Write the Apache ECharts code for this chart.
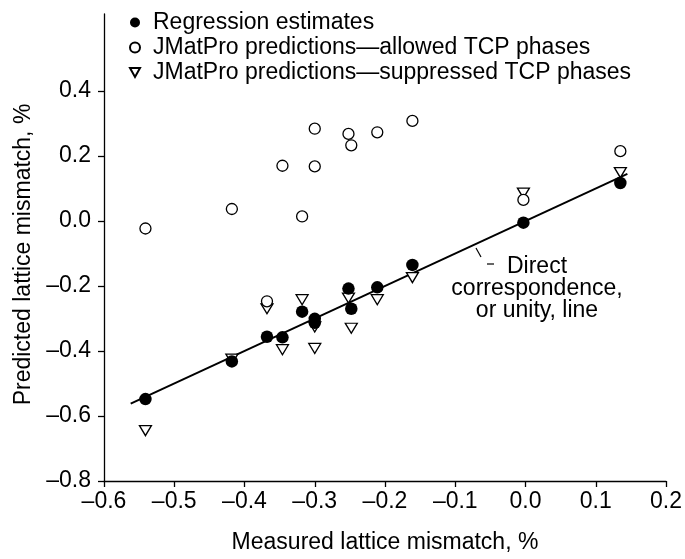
<!DOCTYPE html>
<html>
<head>
<meta charset="utf-8">
<script src="https://cdn.jsdelivr.net/npm/echarts@6/dist/echarts.min.js"></script>
<style>
  html, body { margin: 0; padding: 0; background: #fff; }
  #chart { width: 685px; height: 559px; }
</style>
</head>
<body>
<div id="chart"></div>
<script>
// ---- data ----
const measured = [-0.541, -0.418, -0.368, -0.346, -0.318, -0.300, -0.300, -0.252, -0.248, -0.211, -0.161, -0.003, 0.135];
const regression = [-0.548, -0.432, -0.356, -0.358, -0.279, -0.301, -0.313, -0.208, -0.270, -0.204, -0.135, -0.005, 0.117];
const allowedTCP = [-0.023, 0.037, -0.247, 0.170, 0.014, 0.284, 0.168, 0.268, 0.233, 0.273, 0.308, 0.065, 0.215];
const suppressedTCP = [-0.645, -0.425, -0.270, -0.396, -0.242, -0.326, -0.392, -0.237, -0.330, -0.242, -0.174, 0.086, 0.149];
const unityLineX = [-0.562, 0.145];
const xTicks = [-0.6, -0.5, -0.4, -0.3, -0.2, -0.1, 0.0, 0.1, 0.2];
const yTicks = [-0.8, -0.6, -0.4, -0.2, 0.0, 0.2, 0.4];
const seriesNames = [
  'Regression estimates',
  'JMatPro predictions\u2014allowed TCP phases',
  'JMatPro predictions\u2014suppressed TCP phases'
];

const FONT = "'Liberation Sans', Arial, Helvetica, sans-serif";
const FS = 23;
const fmt = v => (v < -1e-9 ? '\u2013' : '') + Math.abs(v).toFixed(1);
const pairs = ys => measured.map((x, i) => [x, ys[i]]);
const triPath = 'path://M0,0 L10,0 L5,9 Z';

const chart = echarts.init(document.getElementById('chart'), null, { renderer: 'canvas' });
chart.setOption({
  backgroundColor: '#ffffff',
  animation: false,
  textStyle: { fontFamily: FONT, color: '#000' },
  grid: { left: 104, right: 13, top: 14, bottom: 73, containLabel: false },
  legend: {
    orient: 'vertical',
    left: 129,
    top: 11,
    padding: 0,
    itemWidth: 10,
    itemHeight: 10,
    itemGap: 2,
    data: seriesNames,
    textStyle: { fontFamily: FONT, fontSize: FS, color: '#000', lineHeight: 23, padding: [0, 0, 0, 8] }
  },
  xAxis: {
    type: 'value',
    min: -0.6, max: 0.2, interval: 0.1,
    name: 'Measured lattice mismatch, %',
    nameLocation: 'middle',
    nameGap: 50,
    nameTextStyle: { fontFamily: FONT, fontSize: FS, color: '#000' },
    axisLine: { show: true, onZero: false, lineStyle: { color: '#000', width: 1.3 } },
    axisTick: { show: true, length: 6, inside: false, customValues: xTicks, lineStyle: { color: '#000', width: 1.3 } },
    axisLabel: { customValues: xTicks, formatter: fmt, fontFamily: FONT, fontSize: FS, color: '#000', margin: 9 },
    splitLine: { show: false }
  },
  yAxis: {
    type: 'value',
    min: -0.8, max: 0.637, interval: 0.2,
    name: 'Predicted lattice mismatch, %',
    nameLocation: 'middle',
    nameRotate: 90,
    nameGap: 64,
    nameTextStyle: { fontFamily: FONT, fontSize: FS, color: '#000', padding: [0, 14, 0, 0] },
    axisLine: { show: true, onZero: false, lineStyle: { color: '#000', width: 1.3 } },
    axisTick: { show: true, length: 6, inside: false, customValues: yTicks, lineStyle: { color: '#000', width: 1.3 } },
    axisLabel: { customValues: yTicks, formatter: fmt, fontFamily: FONT, fontSize: FS, color: '#000', margin: 13 },
    splitLine: { show: false }
  },
  series: [
    {
      name: 'unity',
      type: 'line',
      data: unityLineX.map(v => [v, v]),
      showSymbol: false,
      symbol: 'none',
      lineStyle: { color: '#000', width: 2 },
      silent: true,
      z: 1
    },
    {
      name: seriesNames[2],
      type: 'scatter',
      data: pairs(suppressedTCP),
      symbol: triPath,
      symbolSize: [12, 10],
      itemStyle: { color: '#fff', borderColor: '#000', borderWidth: 1.3, opacity: 1 },
      z: 2
    },
    {
      name: seriesNames[1],
      type: 'scatter',
      data: pairs(allowedTCP),
      symbol: 'circle',
      symbolSize: 11,
      itemStyle: { color: '#fff', borderColor: '#000', borderWidth: 1.3, opacity: 1 },
      z: 3
    },
    {
      name: seriesNames[0],
      type: 'scatter',
      data: pairs(regression),
      symbol: 'circle',
      symbolSize: 12.5,
      itemStyle: { color: '#000', borderColor: '#000', borderWidth: 0, opacity: 1 },
      z: 4
    }
  ],
  graphic: [
    {
      type: 'polyline',
      shape: { points: [[476, 248], [481, 257]] },
      style: { stroke: '#000', lineWidth: 1.2, fill: null },
      silent: true
    },
    {
      type: 'line',
      shape: { x1: 487, y1: 264, x2: 494, y2: 264 },
      style: { stroke: '#000', lineWidth: 1.2 },
      silent: true
    },
    {
      type: 'text',
      x: 537,
      y: 256,
      style: {
        text: 'Direct\ncorrespondence,\nor unity, line',
        fill: '#000',
        font: FS + 'px ' + FONT,
        lineHeight: 22,
        align: 'center',
        verticalAlign: 'top'
      },
      silent: true
    }
  ]
});
</script>
</body>
</html>
